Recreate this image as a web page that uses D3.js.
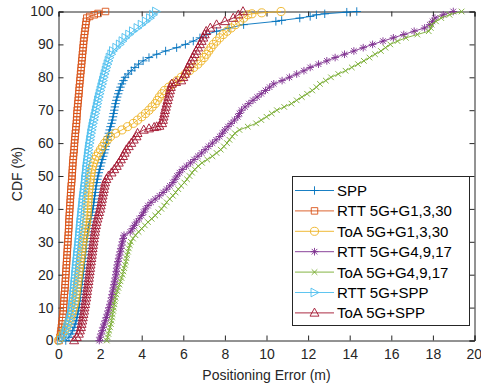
<!DOCTYPE html>
<html><head><meta charset="utf-8">
<script src="https://cdn.jsdelivr.net/npm/d3@7"></script>
<style>body{margin:0;background:#fff}svg{display:block;font-family:"Liberation Sans",Arial,sans-serif}</style>
</head><body><svg id="c" width="481" height="385"></svg>
<script>
const seriesNames = ["SPP","RTT 5G+G1,3,30","ToA 5G+G1,3,30","RTT 5G+G4,9,17","ToA 5G+G4,9,17","RTT 5G+SPP","ToA 5G+SPP"];
const seriesColors = ["#0072BD","#D95319","#EDB120","#7E2F8E","#77AC30","#4DBEEE","#A2142F"];
const seriesMarkers = ["plus","square","circle","star","cross","triright","triup"];
const xTicks = [0,2,4,6,8,10,12,14,16,18,20];
const yTicks = [0,10,20,30,40,50,60,70,80,90,100];

// CDF levels (%) at which the positioning error was read for every series
const cdfLevels = [0,1,2,3,4,5,6,7,8,9,10,11,12,13,14,15,16,17,18,19,20,21,22,23,24,25,26,27,28,29,30,31,32,33,34,35,36,37,38,39,40,41,42,43,44,45,46,47,48,49,50,51,52,53,54,55,56,57,58,59,60,61,62,63,64,65,66,67,68,69,70,71,72,73,74,75,76,77,78,79,80,81,82,83,84,85,86,87,88,89,90,91,92,93,94,95,96,97,98,99,100];

const sppErr = [0.35,0.5,0.6,0.68,0.75,0.8,0.85,0.89,0.92,0.95,0.98,1.0,1.02,1.04,1.06,1.08,1.1,1.12,1.14,1.16,1.18,1.2,1.22,1.24,1.25,1.27,1.29,1.31,1.32,1.34,1.35,1.37,1.39,1.41,1.43,1.46,1.5,1.54,1.58,1.62,1.65,1.68,1.7,1.72,1.74,1.77,1.79,1.81,1.84,1.87,1.9,1.94,1.98,2.02,2.06,2.1,2.15,2.2,2.24,2.27,2.3,2.34,2.38,2.42,2.46,2.5,2.55,2.59,2.62,2.65,2.68,2.71,2.74,2.78,2.82,2.87,2.92,2.98,3.05,3.12,3.2,3.35,3.5,3.67,3.85,4.07,4.35,4.72,5.15,5.68,6.1,6.48,6.8,7.1,7.6,8.2,8.9,10.45,11.6,12.4,14.34];
const sppTailCdf = [97.3,98.5,99.3,99.8];
const sppTailErr = [10.73,12.1,12.8,13.86];

const rttG1Err = [0.03,0.07,0.1,0.12,0.14,0.16,0.18,0.2,0.22,0.23,0.24,0.25,0.26,0.27,0.28,0.3,0.31,0.32,0.33,0.34,0.35,0.36,0.37,0.38,0.39,0.4,0.41,0.42,0.43,0.44,0.45,0.46,0.47,0.48,0.49,0.5,0.5,0.51,0.52,0.53,0.54,0.55,0.56,0.57,0.58,0.59,0.6,0.61,0.63,0.64,0.65,0.66,0.67,0.68,0.69,0.7,0.72,0.73,0.75,0.76,0.77,0.78,0.8,0.81,0.83,0.84,0.86,0.87,0.88,0.89,0.9,0.92,0.93,0.95,0.96,0.98,0.99,1.0,1.02,1.03,1.05,1.06,1.08,1.09,1.11,1.12,1.14,1.15,1.17,1.18,1.2,1.21,1.23,1.25,1.27,1.29,1.31,1.33,1.36,1.72,2.26];
const rttG1TailCdf = [98.5,99.4];
const rttG1TailErr = [1.5,1.9];

const toaG1Err = [0.0,0.1,0.2,0.3,0.38,0.45,0.52,0.58,0.64,0.69,0.73,0.77,0.8,0.83,0.85,0.87,0.89,0.91,0.93,0.95,0.97,0.99,1.01,1.03,1.05,1.08,1.1,1.12,1.14,1.16,1.18,1.21,1.24,1.27,1.3,1.33,1.35,1.37,1.38,1.39,1.4,1.41,1.42,1.43,1.44,1.45,1.47,1.49,1.51,1.53,1.55,1.57,1.6,1.64,1.68,1.74,1.82,1.92,2.02,2.12,2.22,2.35,2.5,2.75,3.05,3.32,3.6,3.8,4.0,4.18,4.35,4.5,4.65,4.75,4.85,4.97,5.1,5.3,5.5,5.7,5.9,6.1,6.3,6.5,6.7,6.85,7.0,7.11,7.22,7.33,7.45,7.6,7.75,7.92,8.1,8.3,8.5,8.7,8.9,9.1,10.7];
const toaG1TailCdf = [99.3,99.6];
const toaG1TailErr = [9.3,9.77];

const rttG4Err = [1.96,2.0,2.05,2.1,2.15,2.2,2.25,2.3,2.35,2.39,2.43,2.48,2.52,2.55,2.58,2.61,2.64,2.67,2.7,2.73,2.76,2.78,2.8,2.83,2.86,2.9,2.93,2.97,3.0,3.04,3.07,3.11,3.15,3.45,3.55,3.65,3.75,3.88,4.0,4.09,4.18,4.3,4.45,4.65,4.85,5.03,5.2,5.35,5.5,5.6,5.7,5.82,5.95,6.15,6.35,6.52,6.7,6.88,7.05,7.22,7.4,7.58,7.75,7.88,8.0,8.15,8.3,8.46,8.62,8.7,8.8,8.97,9.15,9.35,9.55,9.75,9.95,10.15,10.35,10.75,11.1,11.45,11.8,12.1,12.5,12.9,13.3,13.75,14.2,14.65,15.1,15.6,16.1,16.6,17.1,17.6,17.85,17.98,18.1,18.5,18.98];

const toaG4Err = [2.32,2.36,2.4,2.44,2.48,2.52,2.55,2.58,2.6,2.63,2.66,2.69,2.71,2.74,2.78,2.83,2.88,2.93,2.98,3.03,3.08,3.12,3.16,3.2,3.24,3.27,3.3,3.34,3.38,3.43,3.48,3.58,3.7,3.85,4.0,4.15,4.3,4.48,4.65,4.8,4.95,5.08,5.2,5.35,5.5,5.63,5.76,5.9,6.05,6.18,6.3,6.42,6.55,6.72,6.9,7.15,7.4,7.6,7.8,7.95,8.1,8.22,8.35,8.48,8.7,9.1,9.5,9.75,10.0,10.25,10.5,10.85,11.2,11.45,11.7,11.95,12.2,12.4,12.57,12.85,13.1,13.45,13.8,14.1,14.4,14.68,14.95,15.22,15.5,15.72,15.95,16.3,16.7,17.25,17.8,17.9,17.94,18.15,18.4,18.8,19.38];

const rttSppErr = [0.12,0.22,0.3,0.36,0.42,0.47,0.52,0.56,0.6,0.62,0.64,0.66,0.68,0.7,0.71,0.73,0.74,0.76,0.77,0.79,0.8,0.82,0.83,0.85,0.86,0.88,0.89,0.91,0.93,0.95,0.96,0.98,0.99,1.01,1.02,1.04,1.05,1.07,1.09,1.1,1.12,1.14,1.15,1.17,1.19,1.21,1.23,1.25,1.27,1.28,1.3,1.32,1.33,1.35,1.37,1.39,1.41,1.43,1.45,1.47,1.5,1.52,1.55,1.57,1.6,1.63,1.66,1.7,1.73,1.77,1.8,1.84,1.87,1.9,1.94,1.98,2.02,2.06,2.1,2.14,2.18,2.22,2.27,2.31,2.36,2.41,2.46,2.54,2.62,2.78,2.95,3.08,3.22,3.4,3.58,3.8,4.0,4.2,4.4,4.55,4.69];

const toaSppErr = [0.75,0.88,0.98,1.03,1.08,1.11,1.14,1.17,1.2,1.23,1.25,1.28,1.3,1.33,1.35,1.37,1.39,1.42,1.44,1.46,1.48,1.5,1.52,1.54,1.56,1.58,1.6,1.62,1.64,1.66,1.68,1.7,1.72,1.75,1.77,1.8,1.83,1.87,1.91,1.95,2.0,2.03,2.06,2.09,2.12,2.15,2.18,2.21,2.24,2.3,2.4,2.55,2.68,2.8,2.9,3.0,3.1,3.18,3.26,3.38,3.5,3.62,3.75,3.8,4.1,4.72,4.98,5.02,5.05,5.09,5.12,5.16,5.2,5.24,5.28,5.32,5.36,5.4,5.45,5.9,6.0,6.08,6.15,6.22,6.3,6.38,6.46,6.54,6.62,6.71,6.8,6.88,6.96,7.03,7.1,7.3,7.6,8.0,8.4,8.65,8.87];
const toaSppTailCdf = [64.4,64.8,65.2,78.5];
const toaSppTailErr = [4.35,4.6,4.85,5.65];

const allErr = [sppErr,rttG1Err,toaG1Err,rttG4Err,toaG4Err,rttSppErr,toaSppErr];
const allTailCdf = [sppTailCdf,rttG1TailCdf,toaG1TailCdf,[],[],[],toaSppTailCdf];
const allTailErr = [sppTailErr,rttG1TailErr,toaG1TailErr,[],[],[],toaSppTailErr];

const svg = d3.select("#c");
const L=58.5, R=474.5, T=11.5, B=340.5;
const x = d3.scaleLinear().domain([0,20]).range([L,R]);
const y = d3.scaleLinear().domain([0,100]).range([B,T]);
const axisColor = "#262626";
const fontFam = "Liberation Sans, Arial, sans-serif";

function marker(g, type, cx, cy, color){
  const k = 1.12, s = 3.4*k;
  const p = g.append("path").attr("stroke",color).attr("fill","none").attr("stroke-width",0.9);
  if(type==="plus"){
    p.attr("d",`M${cx-s-0.4},${cy}H${cx+s+0.4}M${cx},${cy-s-0.4}V${cy+s+0.4}`);
  } else if(type==="square"){
    const h=2.9*k;
    p.attr("d",`M${cx-h},${cy-h}h${2*h}v${2*h}h${-2*h}Z`);
  } else if(type==="circle"){
    p.attr("d",d3.arc()({innerRadius:0,outerRadius:3.6*k,startAngle:0,endAngle:2*Math.PI})).attr("transform",`translate(${cx},${cy})`);
  } else if(type==="star"){
    const d=2.5*k;
    p.attr("d",`M${cx-s},${cy}H${cx+s}M${cx},${cy-s}V${cy+s}M${cx-d},${cy-d}L${cx+d},${cy+d}M${cx-d},${cy+d}L${cx+d},${cy-d}`);
  } else if(type==="cross"){
    const d=2.5*k;
    p.attr("d",`M${cx-d},${cy-d}L${cx+d},${cy+d}M${cx-d},${cy+d}L${cx+d},${cy-d}`);
  } else if(type==="triright"){
    p.attr("d",`M${cx+3.9*k},${cy}L${cx-3.1*k},${cy-3.9*k}L${cx-3.1*k},${cy+3.9*k}Z`);
  } else if(type==="triup"){
    p.attr("d",`M${cx},${cy-4.3*k}L${cx+4*k},${cy+2.9*k}L${cx-4*k},${cy+2.9*k}Z`);
  }
}

// axes (ticks inside, full box)
const gx = svg.append("g").attr("transform",`translate(0,${B})`)
  .call(d3.axisBottom(x).tickValues(xTicks).tickSize(-5).tickPadding(9).tickFormat(d3.format("d")));
const gy = svg.append("g").attr("transform",`translate(${L},0)`)
  .call(d3.axisLeft(y).tickValues(yTicks).tickSize(-5).tickPadding(5).tickFormat(d3.format("d")));
const gt = svg.append("g").attr("transform",`translate(0,${T})`)
  .call(d3.axisTop(x).tickValues(xTicks).tickSize(-5).tickFormat(""));
const gr = svg.append("g").attr("transform",`translate(${R},0)`)
  .call(d3.axisRight(y).tickValues(yTicks).tickSize(-5).tickFormat(""));
[gx,gy,gt,gr].forEach(g=>{
  g.selectAll("path.domain").attr("stroke",axisColor).attr("stroke-width",1);
  g.selectAll(".tick line").attr("stroke",axisColor);
  g.selectAll(".tick text").attr("fill",axisColor).style("font-size","14px").style("font-family",fontFam);
});
// keep the last x tick label inside the canvas
gx.selectAll(".tick text").filter(d=>d===20).attr("text-anchor","end").attr("dx","7px");

// series
const plot = svg.append("g");
const line = d3.line().x(d=>x(d[0])).y(d=>y(d[1]));
allErr.forEach((errs,i)=>{
  const pts = errs.map((e,j)=>[e, cdfLevels[j]]);
  allTailCdf[i].forEach((c,j)=>pts.push([allTailErr[i][j], c]));
  pts.sort((a,b)=>d3.ascending(a[1],b[1]));
  const g = plot.append("g");
  g.append("path").datum(pts).attr("d",line).attr("fill","none").attr("stroke",seriesColors[i]).attr("stroke-width",0.9);
  pts.forEach(p=>marker(g, seriesMarkers[i], x(p[0]), y(p[1]), seriesColors[i]));
});

// axis labels
svg.append("text").attr("x",(L+R)/2).attr("y",380).attr("text-anchor","middle")
  .attr("fill",axisColor).style("font-size","14px").text("Positioning Error (m)");
svg.append("text").attr("transform",`translate(22,${(T+B)/2-2}) rotate(-90)`).attr("text-anchor","middle")
  .attr("fill",axisColor).style("font-size","14px").text("CDF (%)");

// legend
const lg = svg.append("g");
lg.append("rect").attr("x",292.5).attr("y",176.5).attr("width",177).attr("height",149)
  .attr("fill","#fff").attr("stroke",axisColor).attr("stroke-width",1);
seriesNames.forEach((n,i)=>{
  const yy = 190.5 + i*20.4;
  lg.append("line").attr("x1",295).attr("x2",334).attr("y1",yy).attr("y2",yy).attr("stroke",seriesColors[i]).attr("stroke-width",0.9);
  marker(lg, seriesMarkers[i], 314.5, yy, seriesColors[i]);
  lg.append("text").attr("x",337).attr("y",yy).attr("dy","0.36em").attr("fill","#000")
    .style("font-size","15px").text(n);
});
</script></body></html>
